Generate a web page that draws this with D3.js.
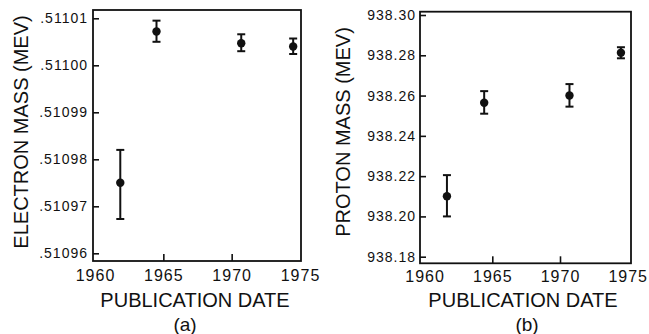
<!DOCTYPE html>
<html>
<head>
<meta charset="utf-8">
<script src="https://cdn.jsdelivr.net/npm/d3@7"></script>
<style>
  html, body { margin: 0; padding: 0; background: #fff; }
  svg { display: block; font-family: 'Liberation Sans', Arial, Helvetica, sans-serif; }
  .tick text { fill: #111; }
</style>
</head>
<body>
<svg id="chart" width="649" height="334"></svg>
<script>
// panel (a): electron mass
const electronYears = [1961.85, 1964.5, 1970.7, 1974.5];
const electronMass = [0.510975, 0.5110072, 0.5110047, 0.511004];
const electronHigh = [0.510982, 0.5110095, 0.5110066, 0.5110057];
const electronLow = [0.5109673, 0.511005, 0.511003, 0.5110024];
const electronTicks = [0.51096, 0.51097, 0.51098, 0.51099, 0.511, 0.51101];
const electronTickLabels = ['.51096', '.51097', '.51098', '.51099', '.51100', '.51101'];

// panel (b): proton mass
const protonYears = [1961.65, 1964.4, 1970.7, 1974.5];
const protonMass = [938.21, 938.2564, 938.26, 938.2813];
const protonHigh = [938.2205, 938.2622, 938.2657, 938.284];
const protonLow = [938.2, 938.251, 938.2545, 938.2785];
const protonTicks = [938.18, 938.2, 938.22, 938.24, 938.26, 938.28, 938.3];
const protonTickLabels = ['938.18', '938.20', '938.22', '938.24', '938.26', '938.28', '938.30'];

const yearTicks = [1960, 1965, 1970, 1975];
const yearTickLabels = ['1960', '1965', '1970', '1975'];

const svg = d3.select('#chart');

function drawPanel(p) {
  const g = svg.append('g');

  const xScale = d3.scaleLinear().domain([1960, 1975]).range(p.xRange);
  const yScale = d3
    .scaleLinear()
    .domain([p.ticks[0], p.ticks[p.ticks.length - 1]])
    .range(p.yRange);

  // y axis, ticks pointing inward
  const yAxis = d3
    .axisLeft(yScale)
    .tickValues(p.ticks)
    .tickFormat((d, i) => p.tickLabels[i])
    .tickSizeInner(-6)
    .tickSizeOuter(0)
    .tickPadding(p.yPad);
  const yAxisSel = g.append('g').attr('transform', `translate(${p.box.x0},0)`).call(yAxis);
  yAxisSel.select('.domain').remove();
  yAxisSel.selectAll('line').attr('stroke', '#111').attr('stroke-width', 1.6);
  yAxisSel
    .selectAll('text')
    .style('font-size', '14px')
    .style('letter-spacing', '1px')
    .attr('font-family', null);

  // x axis, only interior ticks show a mark
  const xAxis = d3
    .axisBottom(xScale)
    .tickValues(yearTicks)
    .tickFormat((d, i) => yearTickLabels[i])
    .tickSizeInner(-7)
    .tickSizeOuter(0)
    .tickPadding(p.xPad);
  const xAxisSel = g.append('g').attr('transform', `translate(0,${p.box.y1})`).call(xAxis);
  xAxisSel.select('.domain').remove();
  xAxisSel
    .selectAll('.tick line')
    .attr('stroke', '#111')
    .attr('stroke-width', 1.6)
    .style('display', (d) => (d === 1960 || d === 1975 ? 'none' : null));
  xAxisSel
    .selectAll('text')
    .style('font-size', '16px')
    .style('letter-spacing', '1px')
    .attr('font-family', null);

  // frame
  g.append('rect')
    .attr('x', p.box.x0)
    .attr('y', p.box.y0)
    .attr('width', p.box.x1 - p.box.x0)
    .attr('height', p.box.y1 - p.box.y0)
    .attr('fill', 'none')
    .attr('stroke', '#111')
    .attr('stroke-width', 1.8);

  // error bars and points
  const pts = p.years.map((yr, i) => ({ yr, v: p.values[i], hi: p.high[i], lo: p.low[i] }));
  const bars = g.append('g').attr('stroke', '#111').attr('stroke-width', 2);
  pts.forEach((d) => {
    const x = xScale(d.yr);
    bars.append('line').attr('x1', x).attr('x2', x).attr('y1', yScale(d.hi)).attr('y2', yScale(d.lo));
    [d.hi, d.lo].forEach((v) => {
      bars
        .append('line')
        .attr('x1', x - 4)
        .attr('x2', x + 4)
        .attr('y1', yScale(v))
        .attr('y2', yScale(v));
    });
  });
  g.append('g')
    .selectAll('circle')
    .data(pts)
    .join('circle')
    .attr('cx', (d) => xScale(d.yr))
    .attr('cy', (d) => yScale(d.v))
    .attr('r', 4.2)
    .attr('fill', '#111');

  // labels
  g.append('text')
    .attr('transform', `translate(${p.yLabelX},132) rotate(-90)`)
    .attr('text-anchor', 'middle')
    .style('font-size', '20px')
    .attr('fill', '#111')
    .text(p.yLabel);

  g.append('text')
    .attr('x', p.xLabelX)
    .attr('y', 306.5)
    .attr('text-anchor', 'middle')
    .style('font-size', '20px')
    .attr('fill', '#111')
    .text('PUBLICATION DATE');

  g.append('text')
    .attr('x', p.captionX)
    .attr('y', 331)
    .attr('text-anchor', 'middle')
    .style('font-size', '19px')
    .attr('fill', '#111')
    .text(p.caption);
}

drawPanel({
  years: electronYears,
  values: electronMass,
  high: electronHigh,
  low: electronLow,
  ticks: electronTicks,
  tickLabels: electronTickLabels,
  box: { x0: 93, x1: 301, y0: 10, y1: 261 },
  xRange: [95, 300],
  yRange: [253.3, 18.3],
  yPad: 5,
  xPad: 9,
  yLabel: 'ELECTRON MASS (MEV)',
  yLabelX: 28,
  xLabelX: 195,
  caption: '(a)',
  captionX: 185,
});

drawPanel({
  years: protonYears,
  values: protonMass,
  high: protonHigh,
  low: protonLow,
  ticks: protonTicks,
  tickLabels: protonTickLabels,
  box: { x0: 420, x1: 631, y0: 11.7, y1: 263.3 },
  xRange: [424.6, 627.7],
  yRange: [256.7, 15],
  yPad: 4,
  xPad: 7,
  yLabel: 'PROTON MASS (MEV)',
  yLabelX: 350,
  xLabelX: 523,
  caption: '(b)',
  captionX: 527,
});
</script>
</body>
</html>
